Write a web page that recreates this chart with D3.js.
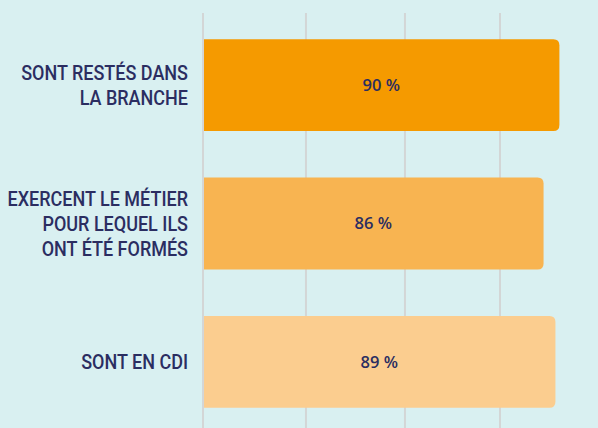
<!DOCTYPE html>
<html>
<meta charset="utf-8">
<title>Insertion</title>
<script src="https://cdn.jsdelivr.net/npm/d3@7/dist/d3.min.js"></script>
<style>
html, body { margin: 0; padding: 0; background: #d9f0f1; }
svg { display: block; }
.cat { font-family: Roboto, sans-serif; font-size: 20px; font-weight: 500; fill: #2b2d61; }
.val { font-family: "Open Sans", sans-serif; font-size: 16.5px; font-weight: 600; fill: #2b2d61; }
.grid line { stroke: #d3d6d6; stroke-width: 2px; }
</style>
<body>
<div id="chart"></div>
<script>
// donnees
var labels = [
  ["SONT RESTÉS DANS", "LA BRANCHE"],
  ["EXERCENT LE MÉTIER", "POUR LEQUEL ILS", "ONT ÉTÉ FORMÉS"],
  ["SONT EN CDI"]
];
var values = [90, 86, 89];
var colors = ["#f59a00", "#f8b451", "#fbcd8f"];
var gridTicks = [0, 26, 51, 75];

var width = 598, height = 428;
var x0 = 203;

var svg = d3.select("#chart").append("svg")
    .attr("width", width)
    .attr("height", height);

var x = d3.scaleLinear().domain([0, 100]).range([x0, x0 + 396]);
var y = d3.scaleBand().domain(d3.range(values.length)).range([16, 431]).paddingInner(0.336).paddingOuter(0.168);

// grille verticale
svg.append("g").attr("class", "grid")
  .selectAll("line").data(gridTicks).enter().append("line")
    .attr("x1", function(d) { return x(d); })
    .attr("x2", function(d) { return x(d); })
    .attr("y1", 13).attr("y2", height);

// barres, coins arrondis a droite seulement
var r = 6;
function barPath(i) {
  var xa = x(0) + 1, xb = x(values[i]), ya = y(i), yb = y(i) + y.bandwidth();
  return "M" + xa + "," + ya + "H" + (xb - r) + "Q" + xb + "," + ya + " " + xb + "," + (ya + r) +
         "V" + (yb - r) + "Q" + xb + "," + yb + " " + (xb - r) + "," + yb + "H" + xa + "Z";
}
svg.append("g").selectAll("path").data(values).enter().append("path")
    .attr("d", function(d, i) { return barPath(i); })
    .attr("fill", function(d, i) { return colors[i]; });

// valeurs
svg.append("g").selectAll("text").data(values).enter().append("text")
    .attr("class", "val")
    .attr("x", function(d) { return (x(0) + x(d)) / 2; })
    .attr("y", function(d, i) { return y(i) + y.bandwidth() / 2; })
    .attr("dy", "0.36em")
    .attr("text-anchor", "middle")
    .text(function(d) { return d + " %"; });

// libelles
var lh = 25;
var cats = svg.append("g").selectAll("g").data(labels).enter().append("g")
    .attr("transform", function(d, i) { return "translate(188," + (y(i) + y.bandwidth() / 2) + ") scale(0.9,1)"; });
cats.each(function(lines) {
  var g = d3.select(this);
  lines.forEach(function(t, k) {
    g.append("text").attr("class", "cat")
      .attr("text-anchor", "end")
      .attr("y", (k - (lines.length - 1) / 2) * lh)
      .attr("dy", "0.36em")
      .text(t);
  });
});
</script>
</body>
</html>
